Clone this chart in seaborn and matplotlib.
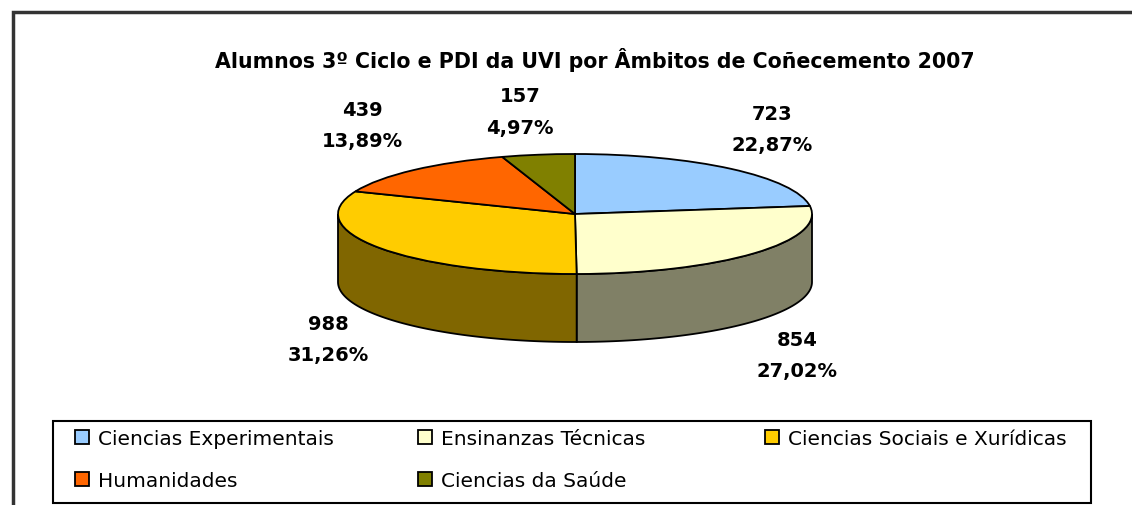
#!/usr/bin/env python3
"""3D-style pie: Alumnos 3º Ciclo e PDI da UVI por Ámbitos de Coñecemento 2007."""
import numpy as np
import matplotlib
matplotlib.use("Agg")
import matplotlib.pyplot as plt
from matplotlib.patches import Patch, Rectangle
import seaborn as sns

# Data
categories = ["Ciencias Experimentais", "Ensinanzas Técnicas", "Ciencias Sociais e Xurídicas",
              "Humanidades", "Ciencias da Saúde"]
values = [723, 854, 988, 439, 157]
colors = ["#99CCFF", "#FFFFCC", "#FFCC00", "#FF6600", "#808000"]
title = "Alumnos 3º Ciclo e PDI da UVI por Âmbitos de Coñecemento 2007"

# Layout (pixels in a 1132x506 canvas)
W, H = 1132, 506
CX, CY = 575, 215          # centre of the top ellipse
RX, RY = 237, 60           # semi-axes of the top ellipse
DEPTH = 68                 # thickness of the pie
label_px = [(772, 115), (797, 341), (328, 325), (362, 110), (520, 97)]
LINE_GAP = 31

sns.set_theme(style="white")
plt.rcParams['font.family'] = ['DejaVu Sans']
plt.rcParams['text.color'] = 'black'

fig = plt.figure(figsize=(W / 100, H / 100), dpi=100)
ax = fig.add_axes([0, 0, 1, 1])

wedges, _ = ax.pie(values, colors=colors, startangle=90, counterclock=False, radius=1,
                   wedgeprops={'edgecolor': 'black', 'linewidth': 1.3, 'zorder': 3})

# pixel -> data mapping (x unit = RX px, y unit = RY px)
ax.set_aspect('auto')
ax.set_xlim(-CX / RX, (W - CX) / RX)
ax.set_ylim((CY - H) / RY, CY / RY)
ax.axis('off')
depth = DEPTH / RY

# side walls of the front half
total = sum(values)
cum = np.concatenate([[0], np.cumsum(values)]) / total
for i, c in enumerate(colors):
    a_end = 90 - cum[i] * 360
    a_start = 90 - cum[i + 1] * 360
    lo, hi = max(a_start, -180), min(a_end, 0)
    if lo >= hi:
        continue
    t = np.radians(np.linspace(lo, hi, 80))
    xs = np.concatenate([np.cos(t), np.cos(t[::-1])])
    ys = np.concatenate([np.sin(t), np.sin(t[::-1]) - depth])
    dark = tuple(0.5 * v for v in matplotlib.colors.to_rgb(c))
    ax.fill(xs, ys, facecolor=dark, edgecolor='black', linewidth=1.3, zorder=2)

# labels
for v, (lx, ly) in zip(values, label_px):
    x = (lx - CX) / RX
    y = (CY - ly) / RY
    pct = f"{100 * v / total:.2f}".replace('.', ',') + "%"
    ax.text(x, y, str(v), ha='center', va='center', fontsize=14, fontweight='bold')
    ax.text(x, y - LINE_GAP / RY, pct, ha='center', va='center', fontsize=14, fontweight='bold')

fig.text(595 / W, 1 - 60 / H, title, ha='center', va='center', fontsize=14.8, fontweight='bold')

# outer chart frame (continues past the right/bottom edges)
fig.add_artist(Rectangle((13 / W, -0.1), 1.2, (H - 13) / H + 0.1, transform=fig.transFigure,
                         fill=False, edgecolor='#333333', linewidth=2.5))

# legend frame
fig.add_artist(Rectangle((53 / W, 2 / H), 1038 / W, 82 / H, transform=fig.transFigure,
                         fill=False, edgecolor='black', linewidth=1.5))

handles = [Patch(facecolor=c, edgecolor='black', linewidth=1.3) for c in colors]
columns = [([0, 3], 75), ([1, 4], 418), ([2], 765)]
for idx, xpx in columns:
    fig.legend([handles[i] for i in idx], [categories[i] for i in idx],
               loc='upper left', bbox_to_anchor=(xpx / W, 1 - 430 / H),
               bbox_transform=fig.transFigure, frameon=False, fontsize=14.5,
               handlelength=0.7, handleheight=0.7, handletextpad=0.45,
               labelspacing=1.15, borderpad=0, borderaxespad=0)

fig.savefig("out.png", dpi=100)
